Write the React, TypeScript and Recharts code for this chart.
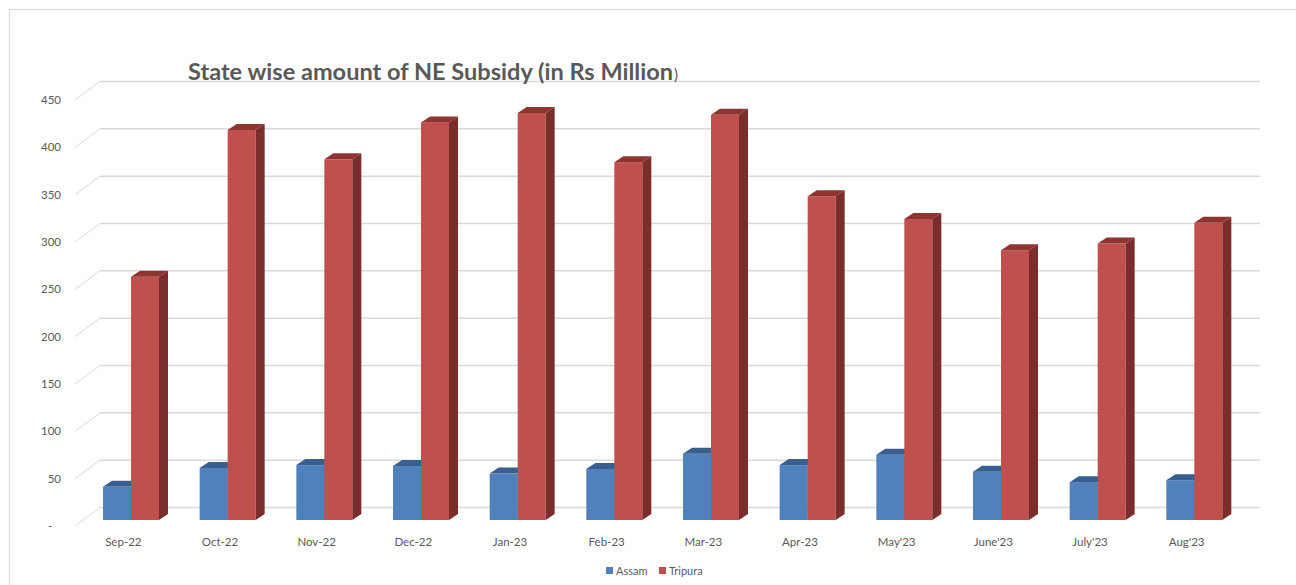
import React from 'react';
import { Bar, BarChart, CartesianGrid, XAxis, YAxis } from 'recharts';

const categories = ['Sep-22', 'Oct-22', 'Nov-22', 'Dec-22', 'Jan-23', 'Feb-23', 'Mar-23', 'Apr-23', "May'23", "June'23", "July'23", "Aug'23"];
const assam = [35, 55, 58, 57, 49, 54, 70, 58, 69, 51, 40, 42];
const tripura = [257, 412, 381, 420, 430, 378, 428, 342, 318, 285, 292, 314];
const yTicks = [0, 50, 100, 150, 200, 250, 300, 350, 400, 450];

const data = categories.map((name, i) => ({ name, Assam: assam[i], Tripura: tripura[i] }));

const font = 'Lato, "Open Sans", sans-serif';
const textColor = '#595959';
const gridColor = '#d9d9d9';

// 3d-ish column: front face + top + right side, pushed back a little
const DX = 8;
const DY = -6;
const DEPTH_X = 9;
const DEPTH_Y = 6;

function makeShape(front: string, top: string, side: string) {
  return (props: any) => {
    const { x, y, width, height } = props;
    if (width == null || height == null) return null;
    const l = x + DX;
    const r = l + width;
    const t = y + DY;
    const b = t + height;
    return (
      <g>
        <rect x={l} y={t} width={width} height={height} fill={front} />
        <polygon points={`${l},${t} ${l + DEPTH_X},${t - DEPTH_Y} ${r + DEPTH_X},${t - DEPTH_Y} ${r},${t}`} fill={top} />
        <polygon points={`${r},${t} ${r + DEPTH_X},${t - DEPTH_Y} ${r + DEPTH_X},${b - DEPTH_Y} ${r},${b}`} fill={side} />
      </g>
    );
  };
}

const assamShape = makeShape('#4f81bd', '#385f8f', '#2f5580');
const tripuraShape = makeShape('#c0504d', '#8e3431', '#7b2d2b');

const gridLine = (props: any) => {
  const { x1, y1, x2, key } = props;
  const by = y1 - 18.5;
  return (
    <g key={key}>
      <line x1={x1} y1={y1} x2={x1 + 25} y2={by} stroke={gridColor} strokeWidth={1} />
      <line x1={x1 + 25} y1={by} x2={x2 + 25} y2={by} stroke={gridColor} strokeWidth={1.5} />
    </g>
  );
};

export default function App() {
  return (
    <div style={{ position: 'relative', width: 1296, height: 585, overflow: 'hidden', background: '#fff' }}>
      <style>{'body{margin:0}'}</style>
      <div style={{ position: 'absolute', left: 9, top: 9, width: 1400, height: 700, borderLeft: `1px solid ${gridColor}`, borderTop: `1px solid ${gridColor}` }} />
      <BarChart
        width={1296}
        height={585}
        data={data}
        margin={{ top: 100, right: 61, bottom: 29, left: 15 }}
        barSize={28}
        barGap={0}
      >
        <CartesianGrid vertical={false} horizontal={gridLine} />
        <XAxis
          dataKey="name"
          height={30}
          axisLine={false}
          tickLine={false}
          tickSize={0}
          tickMargin={12}
          interval={0}
          tick={{ fill: textColor, fontSize: 11.5, fontFamily: font }}
        />
        <YAxis
          width={60}
          domain={[0, 450]}
          ticks={yTicks}
          axisLine={false}
          tickLine={false}
          tickSize={0}
          tickMargin={14}
          tickFormatter={(v: number) => (v === 0 ? '-\u00a0\u00a0\u00a0' : String(v))}
          tick={{ fill: textColor, fontSize: 11.5, fontFamily: font }}
        />
        <Bar dataKey="Assam" fill="#4f81bd" shape={assamShape} isAnimationActive={false} />
        <Bar dataKey="Tripura" fill="#c0504d" shape={tripuraShape} isAnimationActive={false} />
      </BarChart>
      <svg width={1296} height={585} style={{ position: 'absolute', left: 0, top: 0, pointerEvents: 'none' }}>
        <text x={188} y={80} fill={textColor} fontFamily={font} fontWeight={700} fontSize={22} textLength={485} lengthAdjust="spacingAndGlyphs">
          State wise amount of NE Subsidy (in Rs Million
        </text>
        <text x={674} y={80} fill={textColor} fontFamily={font} fontSize={15}>)</text>
        <rect x={606} y={567} width={7} height={7} fill="#4f81bd" />
        <text x={616} y={574.5} fill={textColor} fontFamily={font} fontSize={11}>Assam</text>
        <rect x={659} y={567} width={7} height={7} fill="#c0504d" />
        <text x={669} y={574.5} fill={textColor} fontFamily={font} fontSize={11}>Tripura</text>
      </svg>
    </div>
  );
}
